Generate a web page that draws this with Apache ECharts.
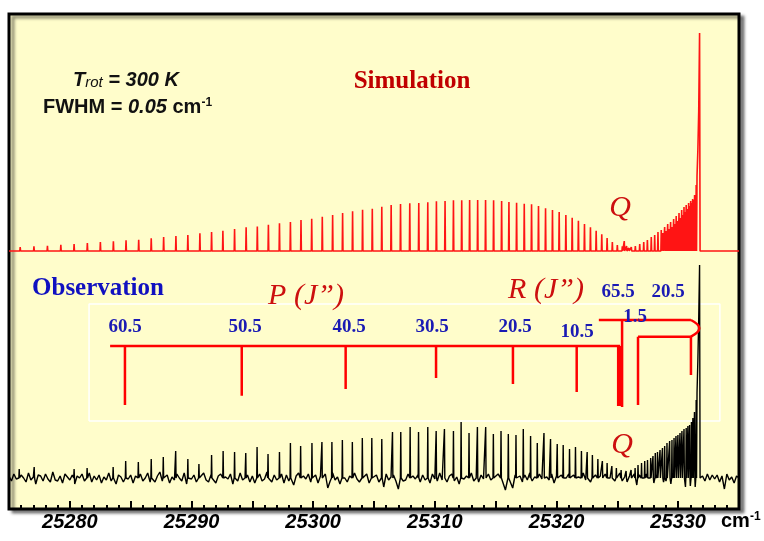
<!DOCTYPE html>
<html><head><meta charset="utf-8">
<script src="https://cdn.jsdelivr.net/npm/echarts@6/dist/echarts.min.js"></script>
<style>html,body{margin:0;padding:0;background:#fff;}#c{width:764px;height:541px;}</style>
</head><body><div id="c"></div>
<script>
// ---------- data (wavenumber in cm-1, intensity in arbitrary units) ----------
const xMin = 25275, xMax = 25335;
const xTickLabels = [25280, 25290, 25300, 25310, 25320, 25330];

// Simulation: P branch lines
const simPPos = [25275.92,25277.05,25278.16,25279.26,25280.35,25281.44,25282.51,25283.58,25284.62,25285.66,
  25286.69,25287.71,25288.72,25289.70,25290.69,25291.65,25292.58,25293.54,25294.49,25295.41,
  25296.32,25297.23,25298.13,25299.00,25299.88,25300.75,25301.60,25302.42,25303.24,25304.06,
  25304.86,25305.64,25306.41,25307.18,25307.94,25308.68,25309.42,25310.13,25310.84,25311.53,
  25312.21,25312.86,25313.52,25314.17,25314.83,25315.49,25316.09,25316.72,25317.35,25317.95,
  25318.52,25319.10,25319.67,25320.22,25320.77,25321.29,25321.80,25322.30,25322.79,25323.26,
  25323.72,25324.16,25324.59,25325.00,25325.41];
const simPH = [4,4.7,5.3,6.3,7,8,9,9.7,10.7,11.3,
  12.7,14,15,16,17.7,19,20.3,22,23.7,24.5,
  26.3,27.7,29,31,32.3,34.3,36,38,39.7,41.3,
  42.3,44.3,46,47,47.7,48,48.7,49.7,50,50.7,
  50.7,51,51,51,50.7,50,49,48.3,47.3,46.7,
  45,42.7,41,39,36,33.3,30.3,27,23.7,20.3,
  16.7,13,9,6,4.7];
// Simulation: Q branch
const simQPos = [25325.57,25325.76,25325.95];
const simQH = [10,5,3];
// Simulation: R branch (outgoing and returning lines)
const simRPos = [25326.15,25326.48,25326.84,25327.17,25327.47,25327.79,25328.07,25328.34,25328.61,25328.89,
  25329.14,25329.38,25329.63,25329.84,25330.07,25330.29,25330.48,25330.66,25330.86,25331.03,
  25331.19,25331.35,25331.48];
const simRH = [4,5,7,9,11,14,16,19,21,24,27,29,32,35,38,41,44,46,48,50,52,56,66];
const simR2Pos = [25328.75,25329.01,25329.26,25329.50,25329.74,25329.96,25330.18,25330.38,25330.57,25330.76,25330.95,25331.11,25331.27,25331.42];
const simR2H = [18,20,22,24,27,30,33,36,39,42,45,48,51,56];
// Simulation: band head
const simHeadPos = [25331.55,25331.62,25331.69,25331.76,25331.80];
const simHeadH = [75,101,140,218,0];

// Observation: resolved lines
const obsPos = [25275.84,25277.07,25280.35,25281.42,25283.56,
  25284.59,25285.63,25286.69,25287.68,25288.70,25289.70,25290.61,25291.65,25292.60,25293.54,
  25294.46,25295.39,25296.29,25297.23,25298.13,25298.97,25299.90,25300.72,25301.54,25302.40,
  25303.22,25304.04,25304.82,25305.64,25306.52,25307.20,25307.97,25308.66,25309.42,25310.11,
  25310.79,25311.53,25312.16,25312.81,25313.50,25314.18,25314.81,25315.44,25316.04,25316.67,
  25317.27,25317.87,25318.42,25318.97,25319.51,25320.06,25320.55,25321.07,25321.56,25322.05,
  25322.52,25322.95,25323.40,25323.77,25324.16,25324.55,25324.92,25325.31,25325.72,25326.13,
  25326.46,25326.70,25326.99,25327.25,25327.48,25327.74,25327.93,25328.12,25328.30,25328.51,
  25328.71,25328.89,25329.08,25329.30,25329.49,25329.66,25329.82,25329.98,25330.15,25330.31,
  25330.48,25330.66,25330.80,25330.94,25331.09,25331.21,25331.34,25331.48];
const obsH = [9,11,9,10,11,
  17,16,19,21,27,19,14,23,27,26,
  25,31,24,26,35,32,35,36,36,38,
  36,40,40,39,46,46,51,46,51,47,
  49,47,56,45,51,51,44,47,44,43,
  49,42,35,45,39,34,33,29,31,27,
  26,23,19,17,15,12,10,8,7,8,
  10,13,15,17,18,20,22,25,26,28,
  30,32,35,37,38,40,42,43,45,47,
  49,50,52,53,56,60,66,78];
const obsHeadPos = [25331.55,25331.62,25331.69,25331.76,25331.80];
const obsHeadH = [85,118,160,213,0];
// Observation: noise read along the baseline, one value every 0.2 cm-1 from 25275
const noiseStart = 25275, noiseStep = 0.2;
const obsNoise = [2,-3,4,-1,-5,3,0,-4,5,-2, 1,-6,3,2,-3,4,-1,-4,6,-2, -3,2,-5,4,1,-2,3,-6,2,0,
  4,-3,-1,5,-4,2,-2,3,-5,1, -2,5,-3,0,-6,3,1,-4,4,-1, 3,-5,2,-2,4,-3,0,5,-4,-1,
  -4,2,6,-3,-1,3,-5,1,-2,4, 0,-3,5,-6,2,-1,3,-4,1,-2, 5,-2,-4,3,0,-5,2,4,-3,1,
  -1,4,-6,2,-3,5,-2,0,3,-4, 2,-5,1,4,-3,-1,6,-2,-4,3, -2,0,4,-5,3,-3,1,-7,2,5,
  -3,2,-1,4,-4,0,3,-5,2,-2, 4,-10,-3,5,-2,1,-6,3,0,-4, 2,-3,5,-1,-4,3,-2,4,-5,1,
  -1,3,-4,2,-9,4,-2,1,3,-3, -11,5,-3,-2,4,-5,2,-1,3,-4, 3,-2,1,-5,4,-1,-3,5,-2,0,
  -4,2,4,-3,1,-6,3,-1,2,-2, 5,-3,0,-4,3,-1,-5,4,-2,2, -2,4,-4,1,-12,5,-1,-10,3,0,
  2,-4,3,-2,5,-3,1,-5,4,-1, -3,1,-2,4,-5,2,-1,3,-4,0, 4,-2,3,-5,1,-3,5,-2,0,-4,
  1,3,-4,2,-6,4,-2,0,3,-3, -1,5,-3,1,-4,2,-2,4,-7,3, 0,-3,4,-2,1,-5,3,-1,2,-4,
  -3,2,-6,3,-7,1,-8,2,-9,-2, -8,-4,-9,-6,-3,2,-3,4,-2,3, -1,3,-4,2,-11,4,-2,1,-5,2, 0];

// Rotational assignment sticks
const pLineStart = 25283.31, pLineEnd = 25325.23, pLineLevel = 163;
const pStickPos = [25284.53,25294.13,25302.67,25310.10,25316.42,25321.66,25325.07,25325.23];
const pStickEnd = [104,113.3,120,131,125,117,103,103];
const rTopStart = 25323.48, rTopLevel = 189, rTurn = 25331.05, rLowLevel = 172.3;
const rStickPos = [25325.39,25326.70,25331.05];
const rStickTop = [189,172.3,172.3];
const rStickEnd = [102,104,134];
const boxX = [25281.58,25333.43], boxY = [88,205];

// ---------- build ----------
const simOffset = 258, obsOffset = 31;
const W = 0.03;
function simData(){
  const lines = [];
  simPPos.forEach((p,i)=>lines.push([p,simPH[i]]));
  simQPos.forEach((p,i)=>lines.push([p,simQH[i]]));
  simRPos.forEach((p,i)=>lines.push([p,simRH[i]]));
  simR2Pos.forEach((p,i)=>lines.push([p,simR2H[i]]));
  lines.sort((a,b)=>a[0]-b[0]);
  const d=[[xMin,simOffset]];
  lines.forEach(([p,h])=>{d.push([p-W,simOffset],[p,simOffset+h],[p+W,simOffset]);});
  simHeadPos.forEach((p,i)=>d.push([p,simOffset+simHeadH[i]]));
  d.push([xMax,simOffset]);
  return d;
}
function obsData(){
  const pts=[];
  const sp = obsPos.map((p,i)=>[p,obsH[i]]);
  obsNoise.forEach((n,i)=>{
    const v = noiseStart + i*noiseStep;
    if (v>=obsHeadPos[0]-0.04 && v<=obsHeadPos[obsHeadPos.length-1]+0.03) return;
    if (sp.some(s=>Math.abs(s[0]-v)<0.05)) return;
    pts.push([v,obsOffset+n]);
  });
  sp.forEach(([p,h])=>{pts.push([p-W,obsOffset],[p,obsOffset+h],[p+W,obsOffset]);});
  obsHeadPos.forEach((p,i)=>pts.push([p,obsOffset+obsHeadH[i]]));
  pts.sort((a,b)=>a[0]-b[0]);
  return pts;
}
const assign = [];
assign.push({coords:[[pLineStart,pLineLevel],[pLineEnd,pLineLevel]]});
pStickPos.forEach((p,i)=>assign.push({coords:[[p,pLineLevel],[p,pStickEnd[i]]]}));
assign.push({coords:[[rTopStart,rTopLevel],[rTurn,rTopLevel]]});
assign.push({coords:[[rStickPos[1],rLowLevel],[rTurn,rLowLevel]]});
rStickPos.forEach((p,i)=>assign.push({coords:[[p,rStickTop[i]],[p,rStickEnd[i]]]}));

const chart = echarts.init(document.getElementById('c'),null,{renderer:'canvas'});
const serif = "'Liberation Serif','Times New Roman',serif";
const sans = "'Liberation Sans',Arial,sans-serif";
function txt(x,y,text,style,align){
  return {type:'text',x:x,y:y,z:50,style:Object.assign({text:text,align:align||'center',verticalAlign:'middle'},style)};
}
const blueLab = {fill:'#1a1ab4',font:"bold 19px "+serif};
const redIt = {fill:'#cc0f0f',font:"italic 30px "+serif};
chart.setOption({
  animation:false,
  grid:{left:9,right:25,top:14,bottom:32,show:true,borderColor:'#000',borderWidth:3,backgroundColor:'#FFFDCB',
        shadowColor:'rgba(0,0,0,0.45)',shadowBlur:3,shadowOffsetX:4,shadowOffsetY:3},
  xAxis:{type:'value',min:xMin,max:xMax,interval:5,
    axisLine:{show:false},splitLine:{show:false},
    axisTick:{show:true,inside:true,length:8,lineStyle:{color:'#000',width:2}},
    minorTick:{show:true,splitNumber:5,length:4,lineStyle:{color:'#000',width:2}},
    axisLabel:{margin:3,color:'#000',fontFamily:sans,fontWeight:'bold',fontStyle:'italic',fontSize:20,
      formatter:v=>xTickLabels.includes(v)?String(v):''}},
  yAxis:{type:'value',min:0,max:495,show:false},
  series:[
    {type:'line',name:'box',data:[[boxX[0],boxY[0]],[boxX[1],boxY[0]],[boxX[1],boxY[1]],[boxX[0],boxY[1]],[boxX[0],boxY[0]]],
      showSymbol:false,lineStyle:{color:'#ffffff',width:1.5},z:1},
    {type:'line',name:'Simulation',data:simData(),showSymbol:false,lineStyle:{color:'#ff1414',width:1.6},z:2},
    {type:'line',name:'Observation',data:obsData(),showSymbol:false,lineStyle:{color:'#000',width:1.4},z:3},
    {type:'lines',coordinateSystem:'cartesian2d',polyline:true,data:assign,lineStyle:{color:'#ff0000',width:2.5,opacity:1},z:4},
    {type:'lines',coordinateSystem:'cartesian2d',data:[{coords:[[rTurn,rTopLevel],[rTurn,rLowLevel]]}],
      lineStyle:{color:'#ff0000',width:2.5,opacity:1,curveness:1.0},z:4}
  ],
  graphic:[
    {type:'text',x:73,y:80,z:50,style:{text:'{a|T}{b|rot}{a| = 300 K}',verticalAlign:'middle',
      rich:{a:{fill:'#111',font:"bold italic 20px "+sans},b:{fill:'#111',font:"italic 15px "+sans,verticalAlign:'bottom'}}}},
    {type:'text',x:43,y:107,z:50,style:{text:'{a|FWHM = }{b|0.05}{a| cm}{c|-1}',verticalAlign:'middle',
      rich:{a:{fill:'#111',font:"bold 20px "+sans},b:{fill:'#111',font:"bold italic 20px "+sans},c:{fill:'#111',font:"bold 12px "+sans,verticalAlign:'top'}}}},
    txt(412,82,'Simulation',{fill:'#c00000',font:"bold 25px "+serif}),
    txt(98,289,'Observation',{fill:'#1010c0',font:"bold 25px "+serif}),
    txt(306,296,'P (J\u201D)',redIt),
    txt(546,290,'R (J\u201D)',redIt),
    txt(620,208,'Q',{fill:'#cc0f0f',font:"italic 30px "+serif}),
    txt(622,445,'Q',{fill:'#cc0f0f',font:"italic 30px "+serif}),
    txt(125,327,'60.5',blueLab),
    txt(245,327,'50.5',blueLab),
    txt(349,327,'40.5',blueLab),
    txt(432,327,'30.5',blueLab),
    txt(515,327,'20.5',blueLab),
    txt(577,332,'10.5',blueLab),
    txt(618,292,'65.5',blueLab),
    txt(668,292,'20.5',blueLab),
    txt(635,317,'1.5',blueLab),
    {type:'text',x:721,y:521,z:50,style:{text:'{a|cm}{c|-1}',verticalAlign:'middle',
      rich:{a:{fill:'#000',font:"bold 20px "+sans},c:{fill:'#000',font:"bold 12px "+sans,verticalAlign:'top'}}}}
  ]
});
</script></body></html>
